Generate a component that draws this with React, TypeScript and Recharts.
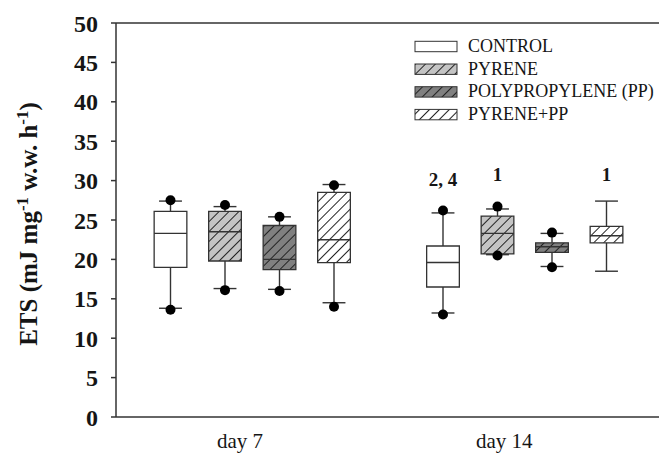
import React from 'react';
import {
  ComposedChart,
  XAxis,
  YAxis,
  Scatter,
  ReferenceArea,
  ReferenceLine,
  ReferenceDot,
  Legend,
  Label,
} from 'recharts';

// ---------- data ----------
const categories = ['day 7', 'day 14'];
const seriesNames = ['CONTROL', 'PYRENE', 'POLYPROPYLENE (PP)', 'PYRENE+PP'];
// each row: one series, values for [day 7, day 14]
const lowerWhisker = [[13.8, 13.2], [16.3, 20.6], [16.2, 19.1], [14.5, 18.5]];
const q1 = [[19.0, 16.5], [19.8, 20.7], [18.7, 20.9], [19.6, 22.1]];
const median = [[23.3, 19.6], [23.5, 23.3], [20.0, 21.6], [22.5, 23.0]];
const q3 = [[26.1, 21.7], [26.1, 25.5], [24.3, 22.1], [28.5, 24.2]];
const upperWhisker = [[27.4, 25.9], [26.7, 26.4], [25.4, 23.3], [29.5, 27.4]];
const outlierLow: (number | null)[][] = [[13.6, 13.0], [16.1, 20.5], [16.0, 19.0], [14.0, null]];
const outlierHigh: (number | null)[][] = [[27.5, 26.2], [26.9, 26.7], [25.4, 23.4], [29.4, null]];
const significance = [['', '2, 4'], ['', '1'], ['', ''], ['', '1']];
const significanceY: (number | null)[][] = [[null, 30.1], [null, 30.75], [null, null], [null, 30.75]];
const yTicks = [0, 5, 10, 15, 20, 25, 30, 35, 40, 45, 50];

// ---------- layout / style ----------
const FONT = "'Liberation Serif', 'Times New Roman', serif";
const INK = '#333333';
const TEXT = '#151515';
const BOX_STEP = 0.2;
const BOX_HALF = 0.06;
const CAP_HALF = 0.042;
const X_LABEL_POS = [0.955, 1.925];
const fillColors = ['#ffffff', '#c4c4c4', '#808080', '#ffffff'];
const hatched = [false, true, true, true];

const boxX = (s: number, d: number) => d + 1 + (s - 1.5) * BOX_STEP;

function patternDefs(prefix: string) {
  return seriesNames.map((_, i) =>
    hatched[i] ? (
      <pattern
        key={prefix + i}
        id={`${prefix}-hatch-${i}`}
        patternUnits="userSpaceOnUse"
        width={7}
        height={7}
        patternTransform="rotate(45)"
      >
        <rect x={0} y={0} width={7} height={7} fill={fillColors[i]} />
        <line x1={3.5} y1={0} x2={3.5} y2={7} stroke="#222" strokeWidth={1} />
      </pattern>
    ) : null
  );
}
const fillFor = (i: number, prefix: string) => (hatched[i] ? `url(#${prefix}-hatch-${i})` : fillColors[i]);

const dotData: { x: number; y: number }[] = [];
seriesNames.forEach((_, s) =>
  categories.forEach((__, d) => {
    const lo = outlierLow[s][d];
    const hi = outlierHigh[s][d];
    if (lo != null) dotData.push({ x: boxX(s, d), y: lo });
    if (hi != null) dotData.push({ x: boxX(s, d), y: hi });
  })
);

const whiskerEls: React.ReactNode[] = [];
const boxEls: React.ReactNode[] = [];
const annotationEls: React.ReactNode[] = [];
seriesNames.forEach((_, s) =>
  categories.forEach((__, d) => {
    const xc = boxX(s, d);
    const k = `${s}-${d}`;
    const line = { stroke: INK, strokeWidth: 1.4, ifOverflow: 'visible' as const };
    whiskerEls.push(
      <ReferenceLine key={'wu' + k} segment={[{ x: xc, y: q3[s][d] }, { x: xc, y: upperWhisker[s][d] }]} {...line} />,
      <ReferenceLine key={'wl' + k} segment={[{ x: xc, y: q1[s][d] }, { x: xc, y: lowerWhisker[s][d] }]} {...line} />,
      <ReferenceLine key={'cu' + k} segment={[{ x: xc - CAP_HALF, y: upperWhisker[s][d] }, { x: xc + CAP_HALF, y: upperWhisker[s][d] }]} {...line} />,
      <ReferenceLine key={'cl' + k} segment={[{ x: xc - CAP_HALF, y: lowerWhisker[s][d] }, { x: xc + CAP_HALF, y: lowerWhisker[s][d] }]} {...line} />
    );
    boxEls.push(
      <ReferenceArea
        key={'b' + k}
        x1={xc - BOX_HALF}
        x2={xc + BOX_HALF}
        y1={q1[s][d]}
        y2={q3[s][d]}
        fill={fillFor(s, 'ch')}
        fillOpacity={1}
        stroke={INK}
        strokeWidth={1.3}
        ifOverflow="visible"
      />,
      <ReferenceLine key={'m' + k} segment={[{ x: xc - BOX_HALF, y: median[s][d] }, { x: xc + BOX_HALF, y: median[s][d] }]} {...line} />
    );
    const txt = significance[s][d];
    const ty = significanceY[s][d];
    if (txt && ty != null) {
      annotationEls.push(
        <ReferenceDot
          key={'a' + k}
          x={xc}
          y={ty}
          r={0}
          fill="none"
          stroke="none"
          ifOverflow="visible"
          label={{
            position: 'center',
            content: (p: any) => {
              const vb = p.viewBox || {};
              const cx = (vb.x || 0) + (vb.width || 0) / 2;
              const cy = (vb.y || 0) + (vb.height || 0) / 2;
              return (
                <text x={cx} y={cy + 6.5} textAnchor="middle" fontFamily={FONT} fontWeight="bold" fontSize={19} fill={TEXT}>
                  {txt}
                </text>
              );
            },
          }}
        />
      );
    }
  })
);

const YLabel = (props: any) => {
  const vb = props.viewBox || { x: 0, y: 23, width: 116, height: 394 };
  const x = vb.x + 37;
  const y = vb.y + vb.height / 2 + 4;
  return (
    <text
      x={x}
      y={y}
      transform={`rotate(-90, ${x}, ${y})`}
      textAnchor="middle"
      fontFamily={FONT}
      fontWeight="bold"
      fontSize={25}
      fill={TEXT}
    >
      ETS (mJ mg
      <tspan dy={-9} fontSize={17}>-1</tspan>
      <tspan dy={9}> w.w. h</tspan>
      <tspan dy={-9} fontSize={17}>-1</tspan>
      <tspan dy={9}>)</tspan>
    </text>
  );
};

const renderLegend = () => (
  <svg width={250} height={100} style={{ display: 'block', overflow: 'visible' }}>
    <defs>{patternDefs('lg')}</defs>
    {seriesNames.map((name, i) => {
      const cy = 11.5 + i * 22.7;
      return (
        <g key={name}>
          <rect x={5} y={cy - 5.2} width={42} height={10.4} fill={fillFor(i, 'lg')} stroke={INK} strokeWidth={1} />
          <text x={58} y={cy + 5.3} fontSize={18} fontFamily={FONT} fill={TEXT}>
            {name}
          </text>
        </g>
      );
    })}
  </svg>
);

export default function App() {
  return (
    <div style={{ position: 'absolute', left: 0, top: 0, width: 659, height: 453, overflow: 'hidden', background: '#fff' }}>
      <ComposedChart width={661} height={453} margin={{ top: 23, right: 0, bottom: 0, left: 0 }} data={dotData}>
        <defs>{patternDefs('ch')}</defs>
        <XAxis
          type="number"
          dataKey="x"
          domain={[0.5, 2.5]}
          allowDataOverflow
          ticks={X_LABEL_POS}
          tickFormatter={(v: number) => categories[X_LABEL_POS.indexOf(v)] ?? ''}
          tickLine={false}
          tickSize={0}
          tickMargin={16}
          height={36}
          axisLine={{ stroke: INK, strokeWidth: 1.5 }}
          tick={{ fontSize: 21, fontFamily: FONT, fill: TEXT }}
        />
        <YAxis
          type="number"
          dataKey="y"
          domain={[0, 50]}
          allowDataOverflow
          ticks={yTicks}
          interval={0}
          width={116}
          tickSize={5}
          tickMargin={13}
          axisLine={{ stroke: INK, strokeWidth: 1.5 }}
          tickLine={{ stroke: INK, strokeWidth: 1.5 }}
          tick={{ fontSize: 24, fontWeight: 'bold', fontFamily: FONT, fill: TEXT }}
        >
          <Label content={<YLabel />} />
        </YAxis>
        <ReferenceLine y={50} stroke={INK} strokeWidth={1.5} ifOverflow="visible" />
        {whiskerEls}
        <Scatter
          data={dotData}
          dataKey="y"
          isAnimationActive={false}
          shape={(p: any) => <circle cx={p.cx} cy={p.cy} r={5} fill="#000" />}
        />
        {boxEls}
        {annotationEls}
        <Legend
          content={renderLegend}
          layout="horizontal"
          verticalAlign="middle"
          align="center"
          wrapperStyle={{ position: 'absolute', left: 410, top: 35, width: 250, height: 100, margin: 0, padding: 0 }}
        />
      </ComposedChart>
    </div>
  );
}
